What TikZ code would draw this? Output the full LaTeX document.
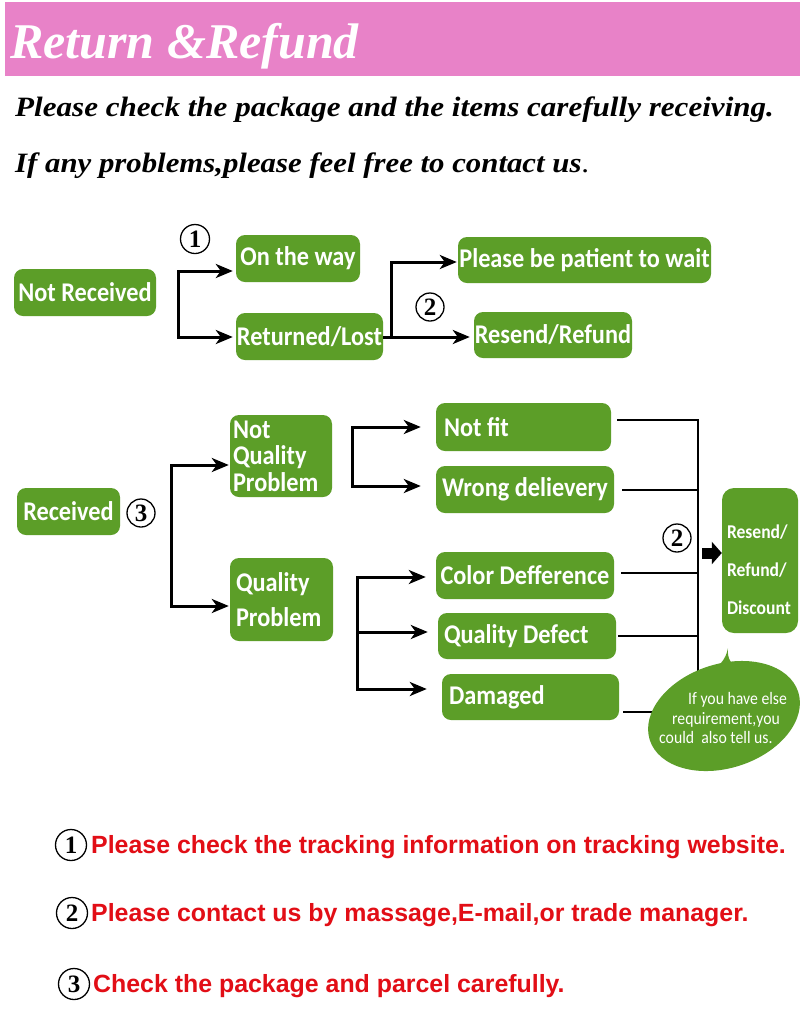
\documentclass[tikz,border=0pt]{standalone}
\usepackage{fontspec}
\setmainfont{Liberation Serif}
\newfontfamily\gfont[FakeStretch=0.9]{Carlito}
\newfontfamily\afont{Liberation Sans}
\usetikzlibrary{arrows.meta,shapes.geometric,calc}
\definecolor{hdrpink}{RGB}{232,130,200}
\definecolor{leaf}{RGB}{92,158,40}
\definecolor{notered}{RGB}{226,14,22}
\begin{document}
\begin{tikzpicture}[x=1pt,y=-1pt,
  gbox/.style={fill=leaf, rounded corners=9pt, text=white, font=\gfont\bfseries\fontsize{27}{27}\selectfont, inner sep=0pt, anchor=center},
  arr/.style={line width=3pt, -{Stealth[length=17pt,width=14pt,inset=5pt]}},
  darr/.style={line width=3pt, {Stealth[length=17pt,width=14pt,inset=5pt]}-{Stealth[length=17pt,width=14pt,inset=5pt]}},
  link/.style={line width=2.2pt},
  numc/.style={circle, draw, line width=1.3pt, inner sep=0pt, minimum size=29pt, font=\bfseries\fontsize{25}{25}\selectfont},
  note/.style={anchor=base west, inner sep=0pt, text=notered, font=\afont\bfseries\fontsize{24.9}{24.9}\selectfont},
  headline/.style={anchor=base west, inner sep=0pt, font=\bfseries\itshape\fontsize{28}{28}\selectfont},
]
\useasboundingbox (0,0) rectangle (800,1021);
\fill[white] (0,0) rectangle (800,1021);

% header
\node[fill=hdrpink, minimum width=795pt, minimum height=74pt, inner sep=0pt, anchor=north west] (hdr) at (5,2) {};
\node[anchor=base west, inner sep=0pt, text=white, font=\bfseries\itshape\fontsize{50}{50}\selectfont] (title) at (10,58) {Return \&Refund};
\node[headline] (l1) at (15,116) {\scalebox{1.11}[1]{Please check the package and the items carefully receiving.}};
\node[headline] (l2) at (15,172) {\scalebox{1.1}[1]{If any problems,please feel free to contact us{\mdseries\upshape.}}};

% top section
\node[gbox, minimum width=142pt, minimum height=47pt] (nr) at (85,292.5) {Not Received};
\node[gbox, minimum width=124pt, minimum height=47pt] (otw) at (298,258.5) {On the way};
\node[gbox, minimum width=147pt, minimum height=47pt] (rl) at (309.5,336.5) {Returned/Lost};
\node[gbox, minimum width=253pt, minimum height=46pt] (pbp) at (584.5,260) {Please be patient to wait};
\node[gbox, minimum width=158pt, minimum height=46pt] (rr) at (553,335) {Resend/Refund};

\node[numc] (c1) at (195,239) {1};
\node[numc, minimum size=28pt] (c2a) at (430,307) {2};

\coordinate (j1t) at (178,271);
\coordinate (j1b) at (178,337);
\draw[darr, shorten <=3pt, shorten >=3pt] (j1t -| otw.west) -- (j1t) -- (j1b) -- (j1b -| rl.west);

\coordinate (j2t) at (391,262);
\coordinate (j2b) at (391,337);
\draw[arr, shorten >=4pt] (rl.east |- j2b) -- (j2b -| rr.west);
\draw[arr, shorten >=1pt] (j2b) -- (j2t) -- (j2t -| pbp.west);

% received section
\node[gbox, minimum width=103pt, minimum height=47pt] (rec) at (68.5,511.5) {Received};
\node[numc, minimum size=28pt] (c3) at (141,513) {3};

\node[gbox, minimum width=102pt, minimum height=82pt, text width=96pt, align=left, font=\gfont\bfseries\fontsize{27}{26.5}\selectfont] (nqp) at (281,456) {Not\\Quality\\Problem};
\node[gbox, minimum width=103pt, minimum height=83pt, text width=91pt, align=left, font=\gfont\bfseries\fontsize{27}{35}\selectfont] (qp) at (281.5,599.5) {Quality\\Problem};

\coordinate (j3t) at (171,465);
\coordinate (j3b) at (171,606);
\draw[darr, shorten <=1pt, shorten >=1pt] (j3t -| nqp.west) -- (j3t) -- (j3b) -- (j3b -| qp.west);

\node[gbox, minimum width=175pt, minimum height=48pt] (nf) at (523.5,427) {\makebox[159pt][l]{Not fit}};
\node[gbox, minimum width=178pt, minimum height=47pt] (wd) at (525,489.5) {Wrong delievery};
\node[gbox, minimum width=178pt, minimum height=47pt] (cd) at (525,575.5) {Color Defference};
\node[gbox, minimum width=178pt, minimum height=46pt] (qd) at (527,636) {\makebox[166pt][l]{Quality Defect}};
\node[gbox, minimum width=177pt, minimum height=46pt] (dm) at (530.5,697) {\makebox[163pt][l]{Damaged}};

\coordinate (j4t) at (352,427);
\coordinate (j4b) at (352,486);
\draw[darr, shorten <=15pt, shorten >=15pt] (j4t -| nf.west) -- (j4t) -- (j4b) -- (j4b -| wd.west);

\coordinate (j5t) at (357,577);
\coordinate (j5m) at (357,632);
\coordinate (j5b) at (357,689);
\draw[darr, shorten <=10pt, shorten >=15pt] (j5t -| cd.west) -- (j5t) -- (j5b) -- (j5b -| dm.west);
\draw[arr, shorten >=10pt] (j5m) -- (j5m -| qd.west);

% right collector
\coordinate (r1) at (698,420);
\coordinate (r2) at (698,490);
\coordinate (r3) at (698,573);
\coordinate (r4) at (698,636);
\coordinate (r5) at (698,712);
\draw[link, shorten <=6pt] (nf.east |- r1) -- (r1);
\draw[link, shorten <=8pt] (wd.east |- r2) -- (r2);
\draw[link, shorten <=7pt] (cd.east |- r3) -- (r3);
\draw[link, shorten <=2pt] (qd.east |- r4) -- (r4);
\draw[link, shorten <=4pt] (dm.east |- r5) -- (r5);
\draw[link, line cap=rect] (r1) -- (r5);

\node[numc, minimum size=28pt] (c2b) at (677,538) {2};

\node[gbox, rounded corners=12pt, minimum width=76pt, minimum height=145pt, text width=66pt, align=left, font=\gfont\bfseries\fontsize{19.5}{38}\selectfont] (rrd) at (760,560.5) {\rule{0pt}{33pt}Resend/\\Refund/\\Discount};

\coordinate (ba) at (702,553);
\draw[line width=11pt, -{Triangle[length=10pt,width=22pt]}] (ba) -- (ba -| rrd.west);

% speech bubble
\node[ellipse, fill=leaf, minimum width=156pt, minimum height=104pt, rotate=18, inner sep=0pt] (bub) at (724,716) {};
\fill[leaf] (703,678) .. controls (718,668) and (726,660) .. (728,648) .. controls (727,658) and (730,665) .. (744,672) -- cycle;
\node[anchor=north west, inner sep=0pt, text=white, align=left, font=\gfont\fontsize{17.5}{19.5}\selectfont] (btxt) at (659,692.5) {\hspace*{29pt}If you have else\\\hspace*{13pt}requirement,you\\could\ \ also tell us.};

% notes
\node[numc, minimum height=31pt] (n1c) at (71,845) {1};
\node[note] (n1) at (91,853) {Please check the tracking information on tracking website.};
\node[numc, minimum height=31pt] (n2c) at (72,913) {2};
\node[note] (n2) at (91,921) {Please contact us by massage,E-mail,or trade manager.};
\node[numc, minimum height=31pt] (n3c) at (74,984) {3};
\node[note] (n3) at (93,992) {Check the package and parcel carefully.};
\end{tikzpicture}
\end{document}
